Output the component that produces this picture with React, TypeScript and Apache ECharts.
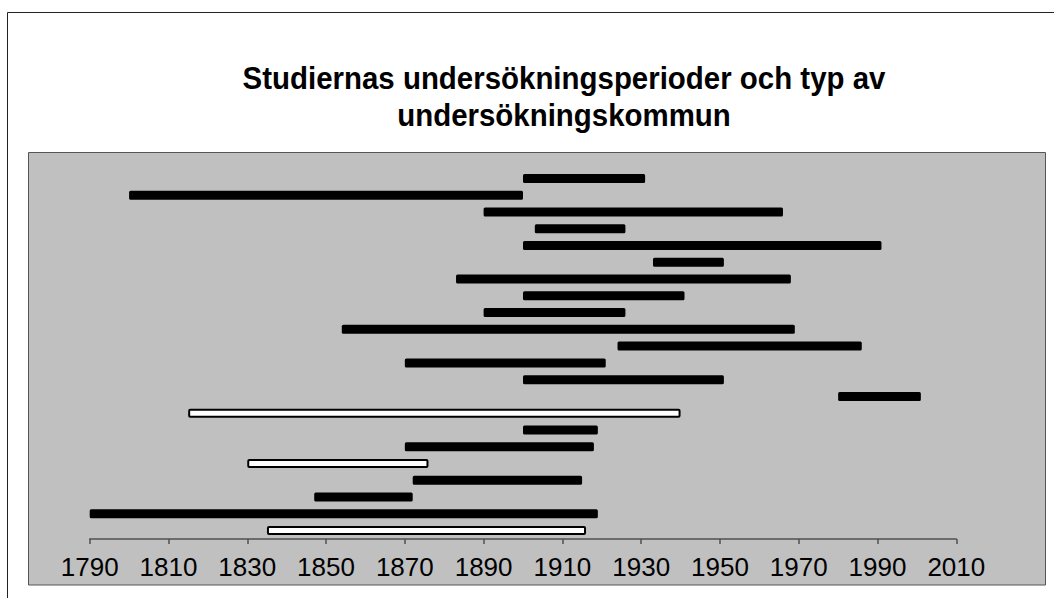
import React, { useEffect, useRef } from "react";
import * as echarts from "echarts";

// Study index (top to bottom)
const studies = [
  "1", "2", "3", "4", "5", "6", "7", "8", "9", "10", "11",
  "12", "13", "14", "15", "16", "17", "18", "19", "20", "21", "22",
];
// Start year of each study's survey period
const startYears = [
  1900, 1800, 1890, 1903, 1900, 1933, 1883, 1900, 1890, 1854, 1924,
  1870, 1900, 1980, 1815, 1900, 1870, 1830, 1872, 1847, 1790, 1835,
];
// End year of each study's survey period
const endYears = [
  1931, 1900, 1966, 1926, 1991, 1951, 1968, 1941, 1926, 1969, 1986,
  1921, 1951, 2001, 1940, 1919, 1918, 1876, 1915, 1872, 1919, 1916,
];
// Type of municipality: 0 = black bar, 1 = white bar
const municipalityType = [
  0, 0, 0, 0, 0, 0, 0, 0, 0, 0, 0,
  0, 0, 0, 1, 0, 0, 1, 0, 0, 0, 1,
];
// x-axis ticks
const yearMin = 1790;
const yearMax = 2010;
const yearStep = 20;

const titleText = "Studiernas undersökningsperioder och typ av\nundersökningskommun";

export default function App() {
  const ref = useRef<HTMLDivElement>(null);

  useEffect(() => {
    document.body.style.margin = "0";
    if (!ref.current) return;
    const chart = echarts.init(ref.current, null, { renderer: "svg" });

    const baseData = startYears.map((s) => s);
    const spanData = startYears.map((s, i) => ({
      value: endYears[i] - s,
      itemStyle:
        municipalityType[i] === 1
          ? { color: "#ffffff", borderColor: "#000000", borderWidth: 2, borderRadius: 1 }
          : { color: "#000000", borderRadius: 1.5 },
    }));

    chart.setOption({
      animation: false,
      graphic: [
        {
          type: "rect",
          z: -10,
          silent: true,
          shape: { x: 7.5, y: 12.5, width: 1200, height: 700 },
          style: { fill: "#ffffff", stroke: "#222222", lineWidth: 1 },
        },
        {
          type: "rect",
          z: -9,
          silent: true,
          shape: { x: 28.5, y: 152.5, width: 1017, height: 432.5 },
          style: { fill: "#c0c0c0", stroke: "#555555", lineWidth: 1 },
        },
        {
          type: "text",
          x: 564,
          y: 60,
          scaleX: 0.95,
          style: {
            text: titleText,
            fill: "#000000",
            font: "bold 31px 'Liberation Sans', Arial, sans-serif",
            align: "center",
            verticalAlign: "top",
            lineHeight: 37,
          },
        },
      ],
      grid: {
        left: 89.7,
        right: 1054 - 956.3,
        top: 170,
        bottom: 598 - 539,
        containLabel: false,
      },
      xAxis: {
        type: "value",
        min: yearMin,
        max: yearMax,
        interval: yearStep,
        axisLine: { show: true, lineStyle: { color: "#505050", width: 1.5 } },
        axisTick: { show: true, length: 5, lineStyle: { color: "#505050", width: 1.5 } },
        splitLine: { show: false },
        axisLabel: {
          color: "#000000",
          fontSize: 26,
          fontFamily: "'Liberation Sans', Arial, sans-serif",
          margin: 15,
          formatter: (v: number) => String(v),
        },
      },
      yAxis: {
        type: "category",
        data: studies,
        inverse: true,
        axisLine: { show: false },
        axisTick: { show: false },
        axisLabel: { show: false },
        splitLine: { show: false },
      },
      series: [
        {
          type: "bar",
          stack: "period",
          data: baseData,
          barWidth: 9,
          itemStyle: { color: "transparent" },
          silent: true,
        },
        {
          type: "bar",
          stack: "period",
          data: spanData,
          barWidth: 9,
        },
      ],
    });

    return () => chart.dispose();
  }, []);

  return (
    <div
      ref={ref}
      style={{ position: "absolute", left: 0, top: 0, width: 1054, height: 598 }}
    />
  );
}
